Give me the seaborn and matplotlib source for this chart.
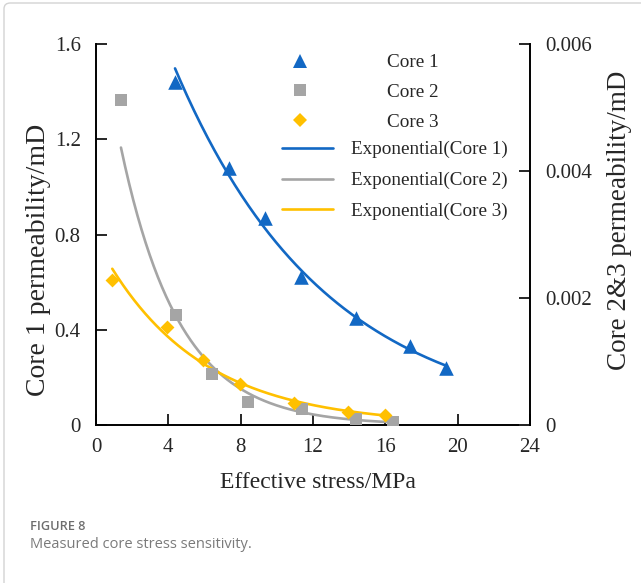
import numpy as np
import pandas as pd
import matplotlib
matplotlib.use("Agg")
import matplotlib.pyplot as plt
import seaborn as sns
from matplotlib.lines import Line2D
from matplotlib.patches import FancyBboxPatch

# ---------------- data ----------------
core1_stress = [4.37, 7.36, 9.35, 11.34, 14.38, 17.37, 19.36]
core1_perm = [1.44, 1.08, 0.87, 0.62, 0.45, 0.33, 0.24]

core2_stress = [1.38, 4.41, 6.40, 8.43, 11.41, 14.38, 16.41]
core2_perm = [0.00512, 0.00174, 0.00080, 0.00037, 0.00025, 0.00009, 0.00004]

core3_stress = [0.90, 3.94, 5.94, 7.96, 10.95, 13.95, 15.98]
core3_perm = [0.00229, 0.00155, 0.00102, 0.00065, 0.00035, 0.00021, 0.00016]

x_ticks = [0, 4, 8, 12, 16, 20, 24]
y1_ticks = [0, 0.4, 0.8, 1.2, 1.6]
y1_labels = ["0", "0.4", "0.8", "1.2", "1.6"]
y2_ticks = [0, 0.002, 0.004, 0.006]
y2_labels = ["0", "0.002", "0.004", "0.006"]

series_names = ["Core 1", "Core 2", "Core 3"]
fit_names = ["Exponential(Core 1)", "Exponential(Core 2)", "Exponential(Core 3)"]

C_BLUE = "#1268C4"
C_GRAY = "#A5A5A5"
C_YEL = "#FFC000"

# ---------------- style ----------------
sns.set_style("white")
plt.rcParams["font.family"] = ["Liberation Serif", "DejaVu Serif"]
plt.rcParams["axes.linewidth"] = 1.4

fig = plt.figure(figsize=(6.41, 5.83), dpi=100)
W, H = 641, 583
L, R, T, B = 96, 530, 44, 425
ax = fig.add_axes([L / W, (H - B) / H, (R - L) / W, (B - T) / H])
ax2 = ax.twinx()


def exp_fit(x, y):
    x = np.asarray(x, float)
    y = np.asarray(y, float)
    b, a = np.polyfit(x, np.log(y), 1)
    xs = np.linspace(x.min(), x.max(), 200)
    return xs, np.exp(a + b * xs)


# fits
xs1, ys1 = exp_fit(core1_stress, core1_perm)
xs2, ys2 = exp_fit(core2_stress, core2_perm)
xs3, ys3 = exp_fit(core3_stress, core3_perm)

lw = 1.9
sns.lineplot(x=xs1, y=ys1, ax=ax, color=C_BLUE, lw=lw, sort=False)
sns.lineplot(x=xs2, y=ys2, ax=ax2, color=C_GRAY, lw=lw, sort=False)
sns.lineplot(x=xs3, y=ys3, ax=ax2, color=C_YEL, lw=lw, sort=False)

sns.scatterplot(x=core1_stress, y=core1_perm, ax=ax, marker="^", s=110,
                color=C_BLUE, linewidth=0, zorder=5)
sns.scatterplot(x=core2_stress, y=core2_perm, ax=ax2, marker="s", s=75,
                color=C_GRAY, linewidth=0, zorder=5)
sns.scatterplot(x=core3_stress, y=core3_perm, ax=ax2, marker="D", s=50,
                color=C_YEL, linewidth=0, zorder=5)

# axes
ax.set_xlim(0, 24)
ax.set_ylim(0, 1.6)
ax2.set_ylim(0, 0.006)
ax.set_xticks(x_ticks)
ax.set_xticklabels([str(v) for v in x_ticks])
ax.set_yticks(y1_ticks)
ax.set_yticklabels(y1_labels)
ax2.set_yticks(y2_ticks)
ax2.set_yticklabels(y2_labels)

for a in (ax, ax2):
    a.spines["top"].set_visible(False)
    for s in a.spines.values():
        s.set_color("black")
        s.set_linewidth(1.4)
ax.spines["right"].set_visible(False)
ax2.spines["left"].set_visible(False)
ax2.spines["bottom"].set_visible(False)

ax.tick_params(axis="y", direction="in", length=8, width=1.4, pad=11, labelsize=15, left=True)
ax.tick_params(axis="x", direction="in", length=8, width=1.4, pad=9, labelsize=15, bottom=True)
ax2.tick_params(axis="y", direction="in", length=8, width=1.4, pad=11, labelsize=15, right=True)

ax.set_xlabel("Effective stress/MPa", fontsize=17)
ax.set_ylabel("Core 1 permeability/mD", fontsize=20)
ax2.set_ylabel("Core 2&3 permeability/mD", fontsize=19.5)
for lab in (ax.xaxis.label, ax.yaxis.label, ax2.yaxis.label):
    lab.set_verticalalignment("center")
    lab.set_horizontalalignment("center")
ax.xaxis.set_label_coords(318 / W, 1 - 483 / H, transform=fig.transFigure)
ax.yaxis.set_label_coords(39 / W, 1 - 260 / H, transform=fig.transFigure)
ax2.yaxis.set_label_coords(619 / W, 1 - 220 / H, transform=fig.transFigure)
ax.grid(False)
ax2.grid(False)

# legends
mk_handles = [
    Line2D([], [], marker="^", ls="none", color=C_BLUE, markersize=10, markeredgewidth=0),
    Line2D([], [], marker="s", ls="none", color=C_GRAY, markersize=8.5, markeredgewidth=0),
    Line2D([], [], marker="D", ls="none", color=C_YEL, markersize=7, markeredgewidth=0),
]
ln_handles = [
    Line2D([], [], color=C_BLUE, lw=lw),
    Line2D([], [], color=C_GRAY, lw=lw),
    Line2D([], [], color=C_YEL, lw=lw),
]
fs_leg = 13.8
leg1 = ax2.legend(mk_handles, series_names, loc="upper left",
                  bbox_to_anchor=((282 - L) / (R - L), (B - 54) / (B - T)),
                  frameon=False, fontsize=fs_leg, handlelength=1.875,
                  handletextpad=3.6, labelspacing=0.64, borderpad=0,
                  borderaxespad=0)
ax2.add_artist(leg1)
leg2 = ax2.legend(ln_handles, fit_names, loc="upper left",
                  bbox_to_anchor=((282 - L) / (R - L), (B - 141) / (B - T)),
                  frameon=False, fontsize=fs_leg, handlelength=2.66,
                  handletextpad=0.94, labelspacing=0.70, borderpad=0,
                  borderaxespad=0)

# caption
fig.text(30 / W, 1 - 527 / H, "FIGURE 8", fontsize=9.2, color="#6E6E6E",
         family=["Open Sans", "DejaVu Sans"], fontweight="semibold", va="center")
fig.text(30 / W, 1 - 545 / H, "Measured core stress sensitivity.", fontsize=10.5,
         color="#7A7A7A", family=["Open Sans", "DejaVu Sans"], va="center")

# page frame
frame = FancyBboxPatch((4 / W, -0.05), 1.2, 1.0 - 3 / H + 0.05,
                       boxstyle="round,pad=0,rounding_size=0.01",
                       transform=fig.transFigure, fill=False,
                       edgecolor="#D3D3D3", lw=1.0)
fig.patches.append(frame)

fig.savefig("out.png", dpi=100)
